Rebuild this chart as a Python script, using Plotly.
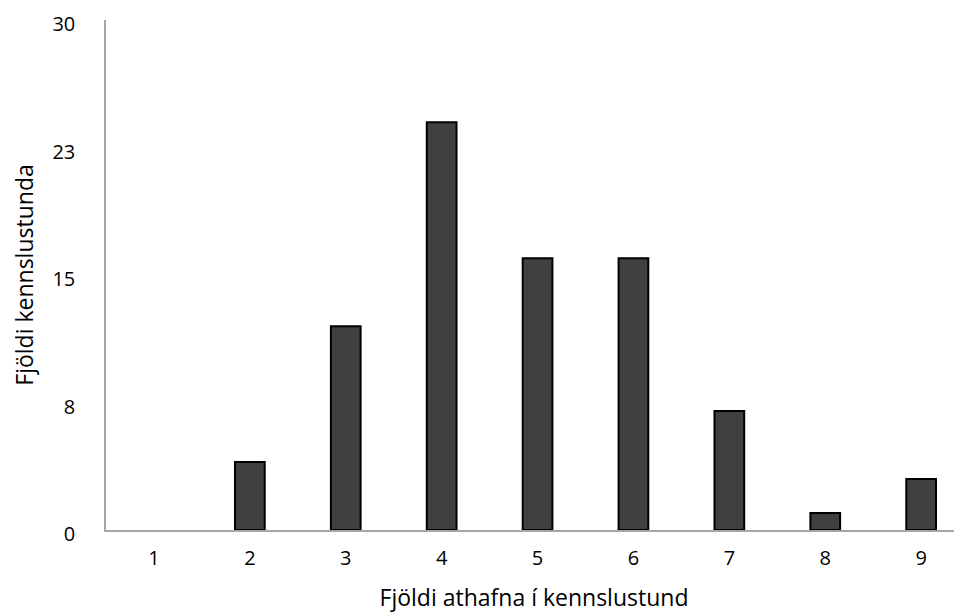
import plotly.graph_objects as go

categories = [1, 2, 3, 4, 5, 6, 7, 8, 9]
values = [0, 4, 12, 24, 16, 16, 7, 1, 3]
ytick_vals = [0, 7.5, 15, 22.5, 30]
ytick_text = ["0", "8", "15", "23", "30"]

FONT = "Open Sans, sans-serif"

# page body has an 8px default margin, so the figure is offset by (8, 8)
fig = go.Figure(go.Bar(
    x=categories, y=values, width=0.31,
    marker=dict(color="#404040",
                line=dict(color="#000000", width=[0 if v == 0 else 2 for v in values])),
))

fig.update_layout(
    width=954, height=608,
    margin=dict(l=98, r=0, t=12, b=86),
    plot_bgcolor="white", paper_bgcolor="white",
    font=dict(family=FONT, size=20, color="#000000"),
    showlegend=False,
    xaxis=dict(
        range=[0.5, 0.5 + 856 / 95.9],
        tickvals=categories, ticktext=[str(c) for c in categories],
        showgrid=False, zeroline=False, automargin=False,
        showline=True, linecolor="#a6a6a6", linewidth=1.5,
        ticks="", ticklabelstandoff=9,
        title=dict(text="Fjöldi athafna í kennslustund", font=dict(size=23), standoff=20),
    ),
    yaxis=dict(
        range=[0, 30.02],
        tickvals=ytick_vals, ticktext=ytick_text,
        showgrid=False, zeroline=False, automargin=False,
        showline=True, linecolor="#a6a6a6", linewidth=1.5,
        ticks="", ticklabelstandoff=25, ticklabelshift=4,
        ticklabeloverflow="allow",
        title=dict(text="Fjöldi kennslustunda", font=dict(size=23), standoff=29),
    ),
)

fig.write_html("out.html")
